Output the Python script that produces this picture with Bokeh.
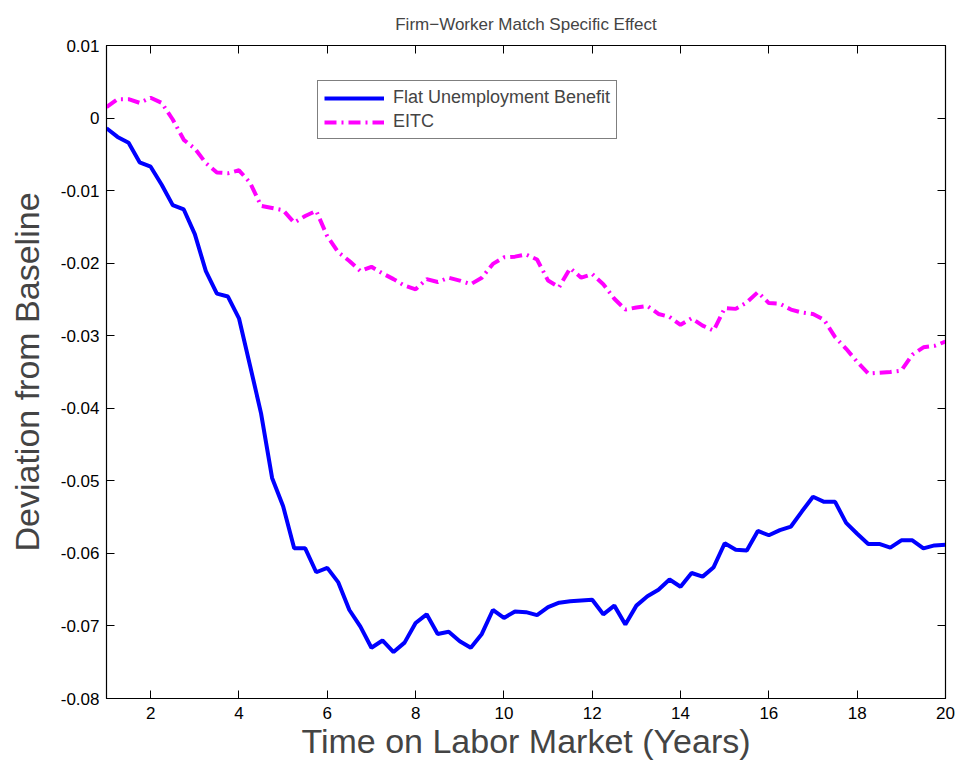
from bokeh.plotting import figure
from bokeh.models import Range1d, FixedTicker, LinearAxis, Legend, LegendItem
from bokeh.embed import file_html
from bokeh.resources import INLINE

# ---- data ----
years = [1 + q / 4 for q in range(77)]

flat_ub = [
    -0.0014, -0.0026, -0.0034, -0.0061,
    -0.0067, -0.0092, -0.0120, -0.0126,
    -0.0160, -0.0211, -0.0242, -0.0246,
    -0.0276, -0.0341, -0.0407, -0.0496,
    -0.0535, -0.0593, -0.0593, -0.0626,
    -0.0620, -0.0640, -0.0678, -0.0701,
    -0.0730, -0.0720, -0.0736, -0.0723,
    -0.0696, -0.0684, -0.0711, -0.0708,
    -0.0721, -0.0730, -0.0711, -0.0678,
    -0.0689, -0.0680, -0.0681, -0.0685,
    -0.0674, -0.0668, -0.0666, -0.0665,
    -0.0664, -0.0684, -0.0672, -0.0698,
    -0.0672, -0.0659, -0.0650, -0.0636,
    -0.0646, -0.0627, -0.0632, -0.0619,
    -0.0586, -0.0595, -0.0596, -0.0569,
    -0.0575, -0.0568, -0.0563, -0.0542,
    -0.0522, -0.0529, -0.0529, -0.0558,
    -0.0573, -0.0587, -0.0587, -0.0592,
    -0.0582, -0.0582, -0.0593, -0.0589,
    -0.0588,
]

eitc = [
    0.0015, 0.0026, 0.0026, 0.0021,
    0.0028, 0.0021, -0.0002, -0.0030,
    -0.0042, -0.0062, -0.0075, -0.0076,
    -0.0072, -0.0089, -0.0121, -0.0124,
    -0.0127, -0.0144, -0.0135, -0.0128,
    -0.0163, -0.0185, -0.0197, -0.0211,
    -0.0205, -0.0214, -0.0222, -0.0231,
    -0.0236, -0.0222, -0.0226, -0.0220,
    -0.0224, -0.0229, -0.0220, -0.0201,
    -0.0192, -0.0191, -0.0188, -0.0195,
    -0.0224, -0.0233, -0.0207, -0.0220,
    -0.0215, -0.0229, -0.0249, -0.0264,
    -0.0261, -0.0259, -0.0270, -0.0274,
    -0.0285, -0.0276, -0.0286, -0.0293,
    -0.0262, -0.0263, -0.0254, -0.0240,
    -0.0255, -0.0256, -0.0264, -0.0268,
    -0.0270, -0.0278, -0.0302, -0.0318,
    -0.0336, -0.0352, -0.0351, -0.0350,
    -0.0348, -0.0326, -0.0316, -0.0314,
    -0.0308,
]

x_ticks = [2, 4, 6, 8, 10, 12, 14, 16, 18, 20]
x_tick_labels = ["2", "4", "6", "8", "10", "12", "14", "16", "18", "20"]
y_ticks = [-0.08, -0.07, -0.06, -0.05, -0.04, -0.03, -0.02, -0.01, 0.0, 0.01]
y_tick_labels = ["-0.08", "-0.07", "-0.06", "-0.05", "-0.04", "-0.03",
                 "-0.02", "-0.01", "0", "0.01"]

title_text = "Firm\u2212Worker Match Specific Effect"
x_label = "Time on Labor Market (Years)"
y_label = "Deviation from Baseline"
series_names = ["Flat Unemployment Benefit", "EITC"]

FONT = "Liberation Sans"

p = figure(width=955, height=762, output_backend="svg", toolbar_location=None,
           x_range=Range1d(1, 20), y_range=Range1d(-0.08, 0.01),
           min_border_left=106, min_border_right=10, min_border_top=45,
           min_border_bottom=56, background_fill_color="white",
           border_fill_color="white")
p.grid.visible = False
p.outline_line_color = "black"
p.outline_line_width = 1.2

p.title.text = title_text
p.title.align = "center"
p.title.text_font = FONT
p.title.text_font_size = "17px"
p.title.text_font_style = "normal"
p.title.standoff = 23

def style_axis(ax, show_labels):
    ax.major_tick_in = 8
    ax.major_tick_out = 0
    ax.minor_tick_line_color = None
    ax.axis_line_color = "black"
    ax.major_tick_line_color = "black"
    ax.major_label_text_font = FONT
    ax.major_label_text_color = "black"
    if show_labels:
        ax.major_label_text_font_size = "17px"
    else:
        ax.major_label_text_font_size = "0px"
        ax.major_label_standoff = 0

xt = FixedTicker(ticks=x_ticks)
yt = FixedTicker(ticks=y_ticks)

xa = p.xaxis[0]
xa.ticker = xt
xa.major_label_overrides = dict(zip(x_ticks, x_tick_labels))
style_axis(xa, True)
xa.major_label_standoff = 8
xa.axis_label = x_label
xa.axis_label_text_font = FONT
xa.axis_label_text_font_size = "34px"
xa.axis_label_text_font_style = "normal"
xa.axis_label_standoff = 0

ya = p.yaxis[0]
ya.ticker = yt
ya.major_label_overrides = dict(zip(y_ticks, y_tick_labels))
style_axis(ya, True)
ya.major_label_standoff = 7
ya.axis_label = y_label
ya.axis_label_text_font = FONT
ya.axis_label_text_font_size = "34px"
ya.axis_label_text_font_style = "normal"
ya.axis_label_standoff = 12

top = LinearAxis(ticker=xt)
style_axis(top, False)
p.add_layout(top, "above")
right = LinearAxis(ticker=yt)
style_axis(right, False)
p.add_layout(right, "right")

r1 = p.line(years, flat_ub, line_color="#0000FF", line_width=4)
r2 = p.line(years, eitc, line_color="#FF00FF", line_width=4, line_dash="12 5 2 5")

legend = Legend(items=[LegendItem(label=series_names[0], renderers=[r1]),
                       LegendItem(label=series_names[1], renderers=[r2])],
                location=(211, 559), orientation="vertical")
legend.label_text_font = FONT
legend.label_text_font_size = "18px"
legend.glyph_width = 60
legend.glyph_height = 20
legend.label_height = 20
legend.label_standoff = 9
legend.spacing = 3
legend.padding = 6
legend.margin = 0
legend.border_line_color = "black"
legend.border_line_width = 1
legend.background_fill_color = "white"
legend.background_fill_alpha = 1
p.add_layout(legend, "center")

open("out.html", "w").write(file_html(p, INLINE))
